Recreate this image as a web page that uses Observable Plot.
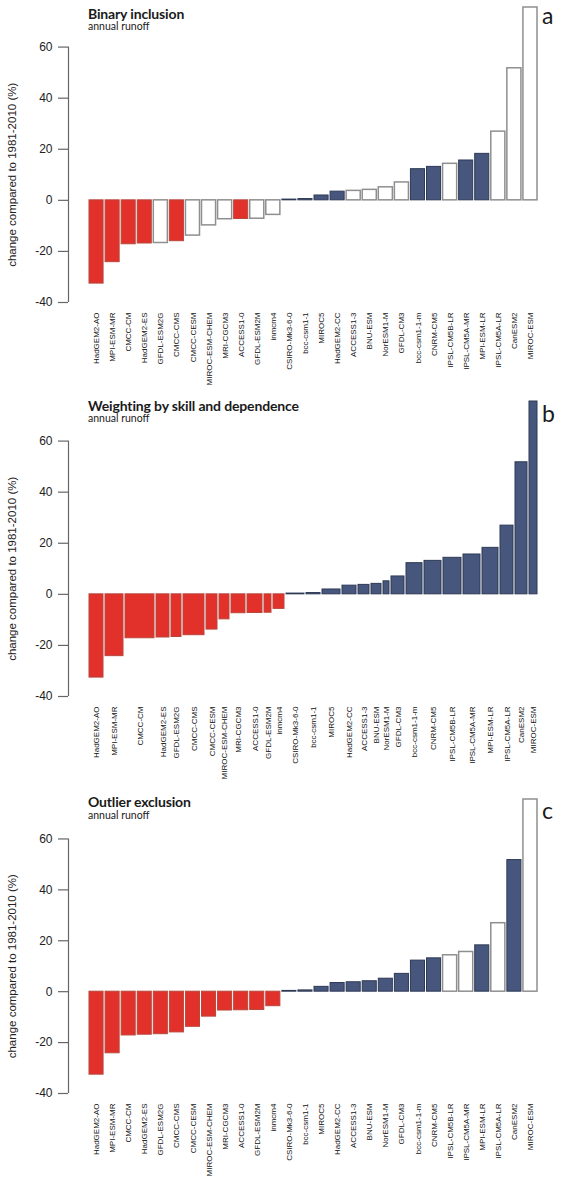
<!DOCTYPE html>
<html>
<head>
<meta charset="utf-8">
<script src="https://cdn.jsdelivr.net/npm/d3@7"></script>
<script src="https://cdn.jsdelivr.net/npm/@observablehq/plot@0.6"></script>
<style>
  html, body { margin: 0; padding: 0; background: #fff; }
  body { width: 565px; height: 1180px; overflow: hidden; position: relative; font-family: "Liberation Sans", Arial, sans-serif; }
  .panel { position: absolute; left: 0; width: 565px; }
  .panel svg { display: block; overflow: visible; }
  .title { position: absolute; left: 88px; font-family: Lato, "Open Sans", sans-serif; font-weight: 700; font-size: 14px; line-height: 1; color: #1a1a1a; white-space: nowrap; letter-spacing: -0.15px; }
  .sub { position: absolute; left: 88px; font-family: Lato, "Open Sans", sans-serif; font-size: 10.5px; line-height: 1; color: #1a1a1a; white-space: nowrap; }
  .letter { position: absolute; left: 542px; font-family: Lato, "Open Sans", sans-serif; font-size: 23px; line-height: 1; color: #1a1a1a; }
</style>
</head>
<body>
<script>
// ---- data ----
const models = ["HadGEM2-AO","MPI-ESM-MR","CMCC-CM","HadGEM2-ES","GFDL-ESM2G","CMCC-CMS","CMCC-CESM",
  "MIROC-ESM-CHEM","MRI-CGCM3","ACCESS1-0","GFDL-ESM2M","inmcm4","CSIRO-Mk3-6-0","bcc-csm1-1","MIROC5",
  "HadGEM2-CC","ACCESS1-3","BNU-ESM","NorESM1-M","GFDL-CM3","bcc-csm1-1-m","CNRM-CM5","IPSL-CM5B-LR",
  "IPSL-CM5A-MR","MPI-ESM-LR","IPSL-CM5A-LR","CanESM2","MIROC-ESM"];
const change = [-32.6,-24.2,-17.2,-16.9,-16.7,-16.0,-13.8,-9.8,-7.4,-7.3,-7.2,-5.7,0.3,0.5,1.9,
  3.4,3.7,4.1,5.1,7.0,12.2,13.1,14.3,15.6,18.2,26.9,51.7,75.5];
// 1 = model kept (coloured), 0 = model excluded (white bar)
const includedA = [1,1,1,1,0,1,0,0,0,1,0,0,1,1,1,1,0,0,0,0,1,1,0,1,1,0,0,0];
const includedB = [1,1,1,1,1,1,1,1,1,1,1,1,1,1,1,1,1,1,1,1,1,1,1,1,1,1,1,1];
const includedC = [1,1,1,1,1,1,1,1,1,1,1,1,1,1,1,1,1,1,1,1,1,1,0,0,1,0,1,0];
// relative bar widths (model weights)
const weightsA = [1,1,1,1,1,1,1,1,1,1,1,1,1,1,1,1,1,1,1,1,1,1,1,1,1,1,1,1];
const weightsB = [16,20,31,15,12,23,13,12,16,17,9,13,20,16,20,16,13,12,8,15,18,19,20,19,18,15,14,10];
const weightsC = [1,1,1,1,1,1,1,1,1,1,1,1,1,1,1,1,1,1,1,1,1,1,1,1,1,1,1,1];
const titles = ["Binary inclusion","Weighting by skill and dependence","Outlier exclusion"];
const subtitles = ["annual runoff","annual runoff","annual runoff"];
const letters = ["a","b","c"];
const yTicks = [-40,-20,0,20,40,60];
const yLabel = "change compared to 1981-2010 (%)";

// ---- style ----
const RED = "#e2302a", RED_EDGE = "#b8473c";
const BLUE = "#46567d", BLUE_EDGE = "#2e3a55";
const WHITE = "#ffffff", WHITE_EDGE = "#8f8f8f";
const AXIS = "#666";

const layouts = [
  {top: 0,   height: 390, mt: 7,  mb: 88, tTop: 7,  sTop: 21, lTop: 4},
  {top: 390, height: 395, mt: 11, mb: 89, tTop: 9,  sTop: 23, lTop: 12},
  {top: 785, height: 395, mt: 14, mb: 87, tTop: 10, sTop: 25, lTop: 14}
];
const includedAll = [includedA, includedB, includedC];
const weightsAll = [weightsA, weightsB, weightsC];
const axisGap = 20 / 450;

function buildRows(weights, included) {
  const total = d3.sum(weights);
  let acc = 0;
  return models.map((m, i) => {
    const x1 = acc / total; acc += weights[i]; const x2 = acc / total;
    const kind = included[i] ? (change[i] < 0 ? "neg" : "pos") : "out";
    return {model: m, value: change[i], x1, x2, mid: (x1 + x2) / 2, kind};
  });
}
const fillOf = {neg: RED, pos: BLUE, out: WHITE};
const edgeOf = {neg: RED_EDGE, pos: BLUE_EDGE, out: WHITE_EDGE};

layouts.forEach((L, p) => {
  const rows = buildRows(weightsAll[p], includedAll[p]);
  const nameByMid = new Map(rows.map(d => [d.mid, d.model]));
  const chart = Plot.plot({
    width: 565, height: L.height,
    marginTop: L.mt, marginBottom: L.mb, marginLeft: 68, marginRight: 27,
    style: {fontFamily: "'Liberation Sans', Arial, sans-serif", color: "#222", background: "transparent"},
    x: {domain: [-axisGap, 1], axis: null},
    y: {domain: [yTicks[0], d3.max(change)], axis: null},
    color: {type: "identity"},
    marks: [
      Plot.rect(rows, {x1: "x1", x2: "x2", y1: 0, y2: "value",
        fill: d => fillOf[d.kind], stroke: d => edgeOf[d.kind],
        strokeWidth: d => d.kind === "out" ? 1.5 : 1,
        insetLeft: 1, insetRight: 1}),
      Plot.ruleX([-axisGap], {y1: yTicks[0], y2: yTicks[yTicks.length - 1], stroke: AXIS, strokeWidth: 1.2}),
      Plot.axisY(yTicks, {anchor: "left", tickSize: 10, tickPadding: 6, fontSize: 12, stroke: AXIS, strokeWidth: 1.2, label: null, tickFormat: d => String(d)}),
      Plot.axisX(rows.map(d => d.mid), {anchor: "bottom", tickSize: 0, tickPadding: 10, tickRotate: -90,
        tickFormat: d => nameByMid.get(d), fontSize: 8, fill: "#111", label: null}),
      Plot.text([yLabel], {x: -axisGap, y: (yTicks[0] + yTicks[yTicks.length - 1]) / 2,
        rotate: -90, dx: -56, fontSize: 11.5, fill: "#222"})
    ]
  });
  const div = document.createElement("div");
  div.className = "panel";
  div.style.top = L.top + "px";
  div.style.height = L.height + "px";
  div.appendChild(chart);
  const t = document.createElement("div"); t.className = "title"; t.textContent = titles[p]; t.style.top = L.tTop + "px";
  const s = document.createElement("div"); s.className = "sub"; s.textContent = subtitles[p]; s.style.top = L.sTop + "px";
  const l = document.createElement("div"); l.className = "letter"; l.textContent = letters[p]; l.style.top = L.lTop + "px";
  div.append(t, s, l);
  document.body.appendChild(div);
});
</script>
</body>
</html>
